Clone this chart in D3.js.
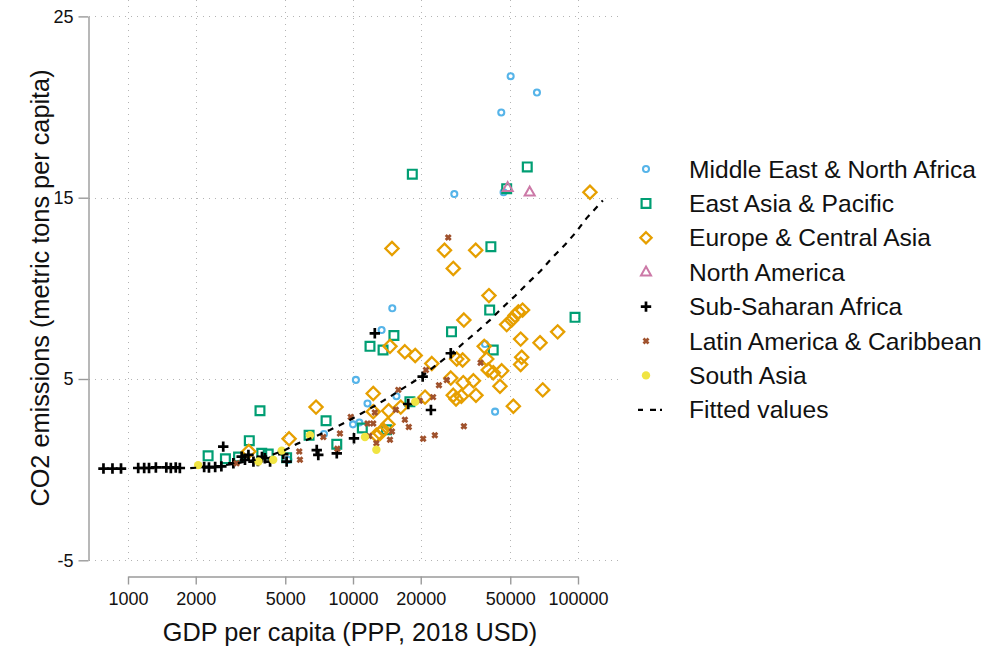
<!DOCTYPE html>
<html>
<head>
<meta charset="utf-8">
<script src="https://cdn.jsdelivr.net/npm/d3@7"></script>
<style>
  body { margin: 0; background: #fff; }
  text { font-family: "Liberation Sans", Arial, sans-serif; fill: #111; }
</style>
</head>
<body>
<div id="chart"></div>
<script>
// values
var mena_gdp = [50200, 65700, 45600, 28200, 46700, 14950, 13400, 10300, 11600, 15600, 38600, 42800, 10000, 10670, 7430, 5160];
var mena_co2 = [21.7, 20.8, 19.7, 15.2, 15.3, 8.9, 7.7, 4.95, 3.65, 4.05, 6.93, 3.2, 2.5, 2.6, 1.97, 0.54];

var eap_gdp = [18350, 59500, 48200, 97000, 41000, 40500, 27400, 15200, 11900, 13600, 42000, 17900, 8470, 3860, 3460, 2270, 2710, 3100, 3930, 4200, 5070, 6380, 7590, 14100, 11000];
var eap_co2 = [16.3, 16.7, 15.5, 8.4, 12.3, 8.8, 7.6, 7.4, 6.8, 6.6, 6.6, 3.75, 1.4, 3.25, 1.6, 0.76, 0.6, 0.7, 0.9, 0.86, 0.66, 1.9, 2.7, 2.2, 2.3];

var eca_gdp = [113000, 14900, 25500, 35100, 27900, 40200, 31100, 48200, 50700, 52500, 54300, 56700, 81200, 67800, 55600, 56200, 55600, 38300, 39300, 39900, 42000, 45800, 45000, 69700, 51600, 28900, 30700, 22400, 18900, 17000, 27200, 30900, 34300, 35200, 27900, 28700, 30300, 20900, 14600, 12300, 16300, 14400, 12300, 14300, 13200, 12700, 13600, 6850, 5200, 3440];
var eca_co2 = [15.3, 12.2, 12.1, 12.1, 11.1, 9.6, 8.25, 8.0, 8.25, 8.5, 8.7, 8.8, 7.6, 7.0, 7.2, 6.2, 5.8, 6.8, 6.1, 5.5, 5.35, 5.45, 4.6, 4.4, 3.5, 6.1, 6.05, 5.85, 6.3, 6.5, 5.05, 4.8, 4.9, 4.1, 4.1, 3.9, 4.05, 4.0, 6.8, 4.2, 3.45, 3.25, 3.2, 2.5, 2.0, 1.9, 2.2, 3.45, 1.7, 1.0];

var na_gdp = [48700, 61000];
var na_co2 = [15.55, 15.3];

var ssa_gdp = [778, 853, 931, 1110, 1180, 1240, 1330, 1480, 1550, 1630, 1700, 2180, 2290, 2440, 2600, 2650, 2940, 3200, 3310, 3430, 3610, 4060, 4280, 4900, 5070, 6900, 7010, 8470, 10100, 17600, 22200, 20400, 27200, 12500, 3780, 3940];
var ssa_co2 = [0.06, 0.06, 0.06, 0.09, 0.09, 0.09, 0.12, 0.12, 0.09, 0.12, 0.09, 0.15, 0.12, 0.15, 0.18, 1.27, 0.35, 0.72, 0.54, 0.81, 0.44, 0.63, 0.44, 0.86, 0.44, 1.08, 0.81, 0.9, 1.73, 3.62, 3.29, 5.13, 6.42, 7.52, 0.48, 0.7];

var lac_gdp = [26500, 36900, 21100, 24100, 26100, 15900, 22700, 19800, 17000, 17700, 14600, 20500, 23100, 31100, 12500, 11600, 9770, 8750, 8520, 12700, 14900, 12300, 11800, 5770, 5810, 7380, 3040, 15500];
var lac_co2 = [12.8, 5.9, 5.5, 4.65, 4.95, 4.4, 4.0, 3.8, 2.75, 2.35, 1.65, 1.7, 1.9, 2.4, 3.15, 2.55, 2.9, 2.0, 1.15, 1.45, 2.1, 2.55, 1.85, 1.0, 0.55, 1.8, 0.35, 3.3];

var sa_gdp = [2050, 3800, 4420, 4820, 6440, 11300, 12700, 18900];
var sa_co2 = [0.25, 0.45, 0.55, 1.05, 1.9, 1.8, 1.1, 3.75];

var fit_gdp = [1890, 2560, 3040, 3670, 4350, 4990, 5710, 6660, 7900, 9200, 10900, 12700, 14600, 17300, 20400, 23400, 27400, 30900, 35500, 40600, 46300, 52500, 60800, 68300, 76400, 87500, 98000, 109000, 129000];
var fit_co2 = [0.08, 0.2, 0.35, 0.54, 0.81, 1.08, 1.45, 1.78, 2.19, 2.59, 3.1, 3.57, 4.02, 4.61, 5.17, 5.77, 6.4, 6.97, 7.6, 8.25, 8.95, 9.58, 10.37, 10.97, 11.66, 12.4, 13.1, 13.86, 14.85];

var x_ticks = [1000, 2000, 5000, 10000, 20000, 50000, 100000];
var y_ticks = [-5, 5, 15, 25];

var regions = [
    {name: 'Middle East & North Africa', gdp: mena_gdp, co2: mena_co2, marker: 'circle',   colour: '#56B4E9'},
    {name: 'East Asia & Pacific',        gdp: eap_gdp,  co2: eap_co2,  marker: 'square',   colour: '#009E73'},
    {name: 'Europe & Central Asia',      gdp: eca_gdp,  co2: eca_co2,  marker: 'diamond',  colour: '#E69F00'},
    {name: 'North America',              gdp: na_gdp,   co2: na_co2,   marker: 'triangle', colour: '#CC79A7'},
    {name: 'Sub-Saharan Africa',         gdp: ssa_gdp,  co2: ssa_co2,  marker: 'plus',     colour: '#000000'},
    {name: 'Latin America & Caribbean',  gdp: lac_gdp,  co2: lac_co2,  marker: 'x',        colour: '#A0522D'},
    {name: 'South Asia',                 gdp: sa_gdp,   co2: sa_co2,   marker: 'dot',      colour: '#F0E442'}
];

var width = 989;
var height = 649;

var x_scale = d3.scaleLog().domain([1000, 100000]).range([128, 578]);
var y_scale = d3.scaleLinear().domain([-5, 25]).range([560.3, 16.4]);

function markerPath(kind, k) {
    k = k || 1;
    var r;
    switch (kind) {
        case 'circle':
            r = 3 * k;
            return 'M' + r + ',0A' + r + ',' + r + ' 0 1,1 ' + (-r) + ',0A' + r + ',' + r + ' 0 1,1 ' + r + ',0Z';
        case 'dot':
            r = 4.2 * k;
            return 'M' + r + ',0A' + r + ',' + r + ' 0 1,1 ' + (-r) + ',0A' + r + ',' + r + ' 0 1,1 ' + r + ',0Z';
        case 'square':
            r = 4.4 * k;
            return 'M' + (-r) + ',' + (-r) + 'H' + r + 'V' + r + 'H' + (-r) + 'Z';
        case 'diamond':
            r = 6.6 * k;
            return 'M0,' + (-r) + 'L' + r + ',0L0,' + r + 'L' + (-r) + ',0Z';
        case 'triangle':
            r = 5.6 * k;
            return 'M0,' + (-r) + 'L' + (r * 0.9) + ',' + (r * 0.6) + 'L' + (-r * 0.9) + ',' + (r * 0.6) + 'Z';
        case 'plus':
            r = 5.2 * k;
            return 'M' + (-r) + ',0H' + r + 'M0,' + (-r) + 'V' + r;
        case 'x':
            r = 2.5 * k;
            return 'M' + (-r) + ',' + (-r) + 'L' + r + ',' + r + 'M' + (-r) + ',' + r + 'L' + r + ',' + (-r);
    }
}

function styleMarker(sel, region) {
    var filled = region.marker === 'dot';
    var sw = {plus: 2.7, x: 2.8, diamond: 2.3, square: 2.2, circle: 2.1};
    sel.attr('fill', filled ? region.colour : 'none')
        .attr('stroke', filled ? 'none' : region.colour)
        .attr('stroke-width', sw[region.marker] || 2)
        .attr('stroke-linejoin', 'miter');
}

var svg = d3.select('#chart')
    .append('svg')
    .attr('width', width)
    .attr('height', height);

// grid
var grid = svg.append('g').attr('class', 'grid')
    .attr('stroke', '#b4b4b4')
    .attr('stroke-width', 1)
    .attr('stroke-dasharray', '1,5');

grid.selectAll('line.v')
    .data(x_ticks)
    .enter().append('line')
    .attr('class', 'v')
    .attr('x1', function(d){ return Math.round(x_scale(d)) + 0.5; })
    .attr('x2', function(d){ return Math.round(x_scale(d)) + 0.5; })
    .attr('y1', 0)
    .attr('y2', y_scale(-5));

grid.selectAll('line.h')
    .data(y_ticks)
    .enter().append('line')
    .attr('class', 'h')
    .attr('x1', 89)
    .attr('x2', 618)
    .attr('y1', function(d){ return Math.round(y_scale(d)) + 0.5; })
    .attr('y2', function(d){ return Math.round(y_scale(d)) + 0.5; });

// axes
var y_axis = d3.axisLeft(y_scale)
    .tickValues(y_ticks)
    .tickFormat(function(d){ return String(d); })
    .tickSize(10)
    .tickSizeOuter(0)
    .tickPadding(5);

var x_axis = d3.axisBottom(x_scale)
    .tickValues(x_ticks)
    .tickFormat(function(d){ return String(d); })
    .tickSize(8)
    .tickSizeOuter(0)
    .tickPadding(8);

var gy = svg.append('g')
    .attr('class', 'y axis')
    .attr('transform', 'translate(88.5,0)')
    .call(y_axis);

var gx = svg.append('g')
    .attr('class', 'x axis')
    .attr('transform', 'translate(0,576.5)')
    .call(x_axis);

[gy, gx].forEach(function(g){
    g.select('.domain').attr('stroke', '#9a9a9a').attr('stroke-width', 1.4);
    g.selectAll('.tick line').attr('stroke', '#9a9a9a').attr('stroke-width', 1.4);
    g.selectAll('.tick text')
        .attr('fill', '#111')
        .style('font-family', '"Liberation Sans", Arial, sans-serif')
        .style('font-size', '18px');
});

svg.append('text')
    .attr('x', 350)
    .attr('y', 641)
    .attr('text-anchor', 'middle')
    .style('font-size', '25.3px')
    .text('GDP per capita (PPP, 2018 USD)');

svg.append('text')
    .attr('transform', 'translate(49,288) rotate(-90)')
    .attr('text-anchor', 'middle')
    .style('font-size', '25.3px')
    .text('CO2 emissions (metric tons per capita)');

// points
regions.forEach(function(region){
    var pts = region.gdp.map(function(g, i){ return {gdp: g, co2: region.co2[i]}; });
    svg.append('g')
        .attr('class', 'series')
        .selectAll('path')
        .data(pts)
        .enter().append('path')
        .attr('d', markerPath(region.marker))
        .attr('transform', function(d){ return 'translate(' + x_scale(d.gdp) + ',' + y_scale(d.co2) + ')'; })
        .call(styleMarker, region);
});

// fitted values
var fit = fit_gdp.map(function(g, i){ return {gdp: g, co2: fit_co2[i]}; });
var line = d3.line()
    .x(function(d){ return x_scale(d.gdp); })
    .y(function(d){ return y_scale(d.co2); });

svg.append('path')
    .datum(fit)
    .attr('d', line)
    .attr('fill', 'none')
    .attr('stroke', '#000')
    .attr('stroke-width', 2.2)
    .attr('stroke-dasharray', '6,6');

// legend
var legend = svg.append('g').attr('class', 'legend');
var legend_y0 = 169;
var legend_step = 34.4;

regions.forEach(function(region, i){
    var cy = legend_y0 + i * legend_step;
    legend.append('path')
        .attr('d', markerPath(region.marker, region.marker === 'diamond' ? 0.85 : 1))
        .attr('transform', 'translate(646,' + cy + ')')
        .call(styleMarker, region);
    legend.append('text')
        .attr('x', 689)
        .attr('y', cy + 8.5)
        .style('font-size', '24.6px')
        .text(region.name);
});

var fy = legend_y0 + regions.length * legend_step;
legend.append('line')
    .attr('x1', 638).attr('x2', 665)
    .attr('y1', fy).attr('y2', fy)
    .attr('stroke', '#000')
    .attr('stroke-width', 2.2)
    .attr('stroke-dasharray', '5,7,6,4,2,10');
legend.append('text')
    .attr('x', 689)
    .attr('y', fy + 8.5)
    .style('font-size', '24.6px')
    .text('Fitted values');
</script>
</body>
</html>
